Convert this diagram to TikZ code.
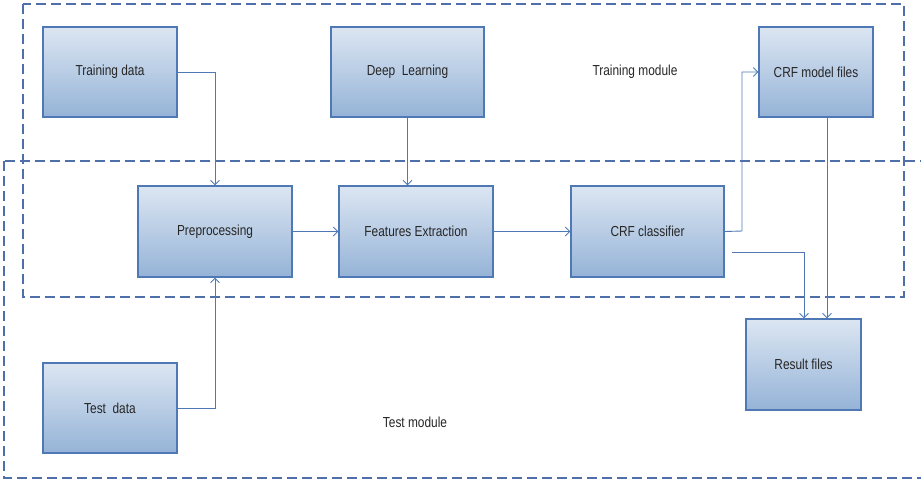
\documentclass[tikz,border=0pt]{standalone}
\usepackage{fontspec}
\setmainfont{Liberation Sans}[FakeStretch=0.82]
\usetikzlibrary{arrows.meta}
\definecolor{boxtop}{HTML}{DCE6F2}
\definecolor{boxbot}{HTML}{95B3D7}
\definecolor{boxline}{HTML}{4F79B5}
\definecolor{dashline}{HTML}{4F6FAA}
\begin{document}
\begin{tikzpicture}[x=1pt,y=-1pt,
  box/.style={draw=boxline, line width=1.1pt, top color=boxtop, bottom color=boxbot,
    inner sep=0pt, font=\fontsize{14.5}{16}\selectfont, text=black!85},
  conn/.style={draw=boxline, line width=0.9pt, -{Straight Barb[length=4.5pt,width=9pt]}},
  region/.style={draw=dashline, line width=1.1pt, dash pattern=on 10pt off 5pt},
  lbl/.style={font=\fontsize{14.5}{16}\selectfont, text=black!85}]
\useasboundingbox (0,0) rectangle (921,483);
\clip (0,0) rectangle (921,483);
% module regions
\draw[region] (23,4) rectangle (904,297);
\draw[region] (4,161) rectangle (930,478);
% boxes
\node[box, minimum width=134pt, minimum height=90pt] (train) at (110,72) {Training data};
\node[box, minimum width=153pt, minimum height=90pt] (deep) at (407.5,72) {Deep\ \ Learning};
\node[box, minimum width=114pt, minimum height=90pt] (model) at (816,72) {CRF model files};
\node[box, minimum width=154pt, minimum height=91pt] (pre) at (215,231.5) {Preprocessing};
\node[box, minimum width=154pt, minimum height=91pt] (feat) at (416,231.5) {Features Extraction};
\node[box, minimum width=153pt, minimum height=91pt] (crf) at (647.5,231.5) {CRF classifier};
\node[box, minimum width=115pt, minimum height=91pt] (res) at (803.5,364.5) {Result files};
\node[box, minimum width=134pt, minimum height=90pt] (test) at (110,408) {Test\ \ data};
% labels
\node[lbl] (trainlbl) at (635,72) {Training module};
\node[lbl] (testlbl) at (415,422) {Test module};
% connectors
\coordinate (c1) at (215,72);
\draw[conn] (train.east |- c1) -| (pre.north);
\draw[conn] (test.east |- 0,408) -| (pre.south);
\draw[conn] (deep.south) -- (feat.north -| deep.south);
\draw[conn] (pre.east) -- (feat.west);
\draw[conn] (feat.east) -- (crf.west);
\coordinate (c2) at (742,231);
\coordinate (c3) at (742,72);
\draw[conn] (crf.east) -- (c2) -- (c3) -- (model.west);
\coordinate (c4) at (732,252);
\coordinate (c5) at (804,252);
\draw[conn] (c4) -- (c5) -- (res.north -| c5);
\coordinate (c6) at (827,117);
\draw[conn] (model.south -| c6) -- (res.north -| c6);
\end{tikzpicture}
\end{document}
